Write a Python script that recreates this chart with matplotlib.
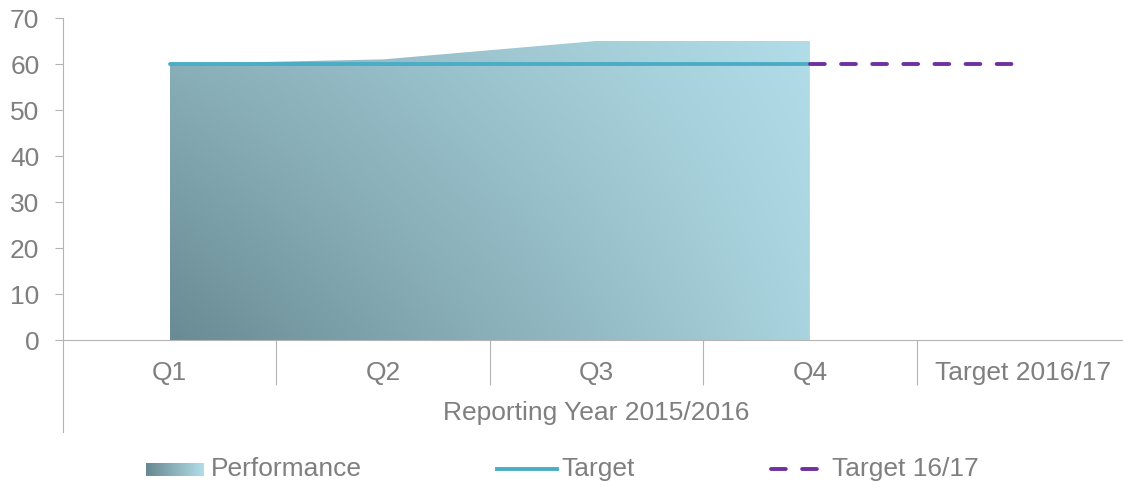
import numpy as np
import matplotlib.pyplot as plt
from matplotlib.lines import Line2D
from matplotlib.colors import LinearSegmentedColormap

plt.rcParams['font.family'] = ['Liberation Sans', 'DejaVu Sans']

# data
categories = ['Q1', 'Q2', 'Q3', 'Q4', 'Target 2016/17']
performance = [60, 61, 65, 65]
target = [60, 60, 60, 60]
target_next = [60, 60]          # from Q4 to Target 2016/17
group_label = 'Reporting Year 2015/2016'

TEXT = '#7f7f7f'
AXIS = '#b4b4b4'
FS = 19
W, H = 1123, 487

fig = plt.figure(figsize=(W / 100, H / 100), dpi=100)
# axes spans 5 category slots from x=63px to ~1130px, y 18px..340px
ax = fig.add_axes([63 / W, (H - 340) / H, (1130 - 63) / W, 322 / H])

xpos = np.arange(len(categories)) + 0.5
ax.set_xlim(0, len(categories))
ax.set_ylim(0, 70)

# gradient filled area for Performance
xp = xpos[:len(performance)]
poly = ax.fill_between(xp, 0, performance, facecolor='none', edgecolor='none')
cmap = LinearSegmentedColormap.from_list('perf', ['#5e7e86', '#b6e2ed'])
gx, gy = np.meshgrid(np.linspace(0, 1, 300), np.linspace(0, 1, 100))
grad = (1 - gx) * (0.13 + 0.38 * gy) + gx * (0.85 + 0.10 * gy)
img = ax.imshow(grad, extent=[xp[0], xp[-1], 0, max(performance)], origin='lower',
                cmap=cmap, vmin=0, vmax=1, aspect='auto', zorder=1,
                interpolation='bilinear')
img.set_clip_path(poly.get_paths()[0], transform=ax.transData)

ax.plot(xp, target, color='#4bacc6', lw=2.8, zorder=3, solid_capstyle='round')
ax.plot(xpos[3:5], target_next, color='#7030a0', lw=2.8, zorder=3,
        linestyle=(0, (3.8, 4.2)), dash_capstyle='round')

# axes styling
for s in ['top', 'right']:
    ax.spines[s].set_visible(False)
ax.spines['left'].set_color(AXIS)
ax.spines['bottom'].set_color(AXIS)
ax.spines['left'].set_bounds(-20, 70)
ax.set_yticks(range(0, 71, 10))
ax.tick_params(axis='y', length=6, color=AXIS, labelcolor=TEXT, labelsize=FS, pad=11)
ax.set_xticks([1, 2, 3, 4])
ax.set_xticklabels([])
ax.tick_params(axis='x', which='major', length=32.5, color=AXIS)
ax.set_xticks(xpos, minor=True)
ax.set_xticklabels(categories, minor=True)
ax.tick_params(axis='x', which='minor', length=0, labelcolor=TEXT, labelsize=FS, pad=15)

ax.annotate(group_label, xy=(2.5, 0), xycoords=('data', 'axes fraction'),
            xytext=(0, -52.5), textcoords='offset points', ha='center', va='center',
            color=TEXT, fontsize=FS)

# legend drawn by hand
def fx(px):
    return px / W


def fy(py):
    return 1 - py / H


ly = 469
lax = fig.add_axes([fx(146), fy(476), fx(204) - fx(146), 13 / H])
lax.imshow(np.linspace(0.1, 0.95, 100)[None, :], cmap=cmap, vmin=0, vmax=1, aspect='auto')
lax.axis('off')
fig.text(fx(211), fy(ly), 'Performance', color=TEXT, fontsize=FS, va='center')
fig.add_artist(Line2D([fx(497), fx(557)], [fy(ly), fy(ly)], color='#4bacc6', lw=2.8,
                      transform=fig.transFigure))
fig.text(fx(561), fy(ly), 'Target', color=TEXT, fontsize=FS, va='center')
fig.add_artist(Line2D([fx(771), fx(822)], [fy(ly), fy(ly)], color='#7030a0', lw=2.8,
                      linestyle=(0, (3.8, 4.2)), dash_capstyle='round',
                      transform=fig.transFigure))
fig.text(fx(832), fy(ly), 'Target 16/17', color=TEXT, fontsize=FS, va='center')

fig.savefig('out.png', dpi=100)
